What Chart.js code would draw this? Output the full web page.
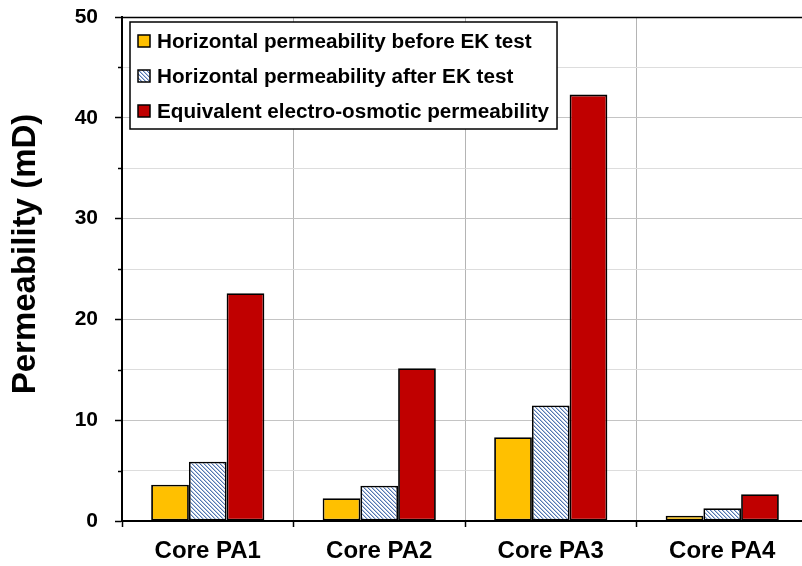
<!DOCTYPE html>
<html>
<head>
<meta charset="utf-8">
<script src="https://cdn.jsdelivr.net/npm/chart.js@4.4.1/dist/chart.umd.min.js"></script>
<style>
  html, body { margin: 0; padding: 0; background: #fff; overflow: hidden; }
  #wrap { width: 812px; height: 566px; position: relative; }
</style>
</head>
<body>
<div id="wrap"><canvas id="c"></canvas></div>
<script>
const categories = ['Core PA1', 'Core PA2', 'Core PA3', 'Core PA4'];
const seriesNames = [
  'Horizontal permeability before EK test',
  'Horizontal permeability after EK test',
  'Equivalent electro-osmotic permeability'
];
const beforeEK = [3.6, 2.26, 8.31, 0.53];
const afterEK = [5.88, 3.49, 11.46, 1.26];
const electroOsmotic = [22.6, 15.16, 42.3, 2.65];
const yMin = 0, yMax = 50, yStep = 5, yLabelStep = 10;
const yTitle = 'Permeability (mD)';

const FONT = '"Liberation Sans", Arial, Helvetica, sans-serif';

function makeHatch() {
  const n = 4;
  const t = document.createElement('canvas');
  t.width = n; t.height = n;
  const g = t.getContext('2d');
  g.fillStyle = '#ffffff';
  g.fillRect(0, 0, n, n);
  for (let i = 0; i < n; i++) {
    g.fillStyle = '#5476b0';
    g.fillRect(i, i, 1, 1);
    g.fillStyle = '#b3c5e0';
    g.fillRect((i + 1) % n, i, 1, 1);
  }
  return g.createPattern(t, 'repeat');
}
const ctx0 = document.getElementById('c').getContext('2d');
const hatch = makeHatch();
const fills = ['#ffc000', hatch, '#c00000'];

const framePlugin = {
  id: 'frame',
  afterDraw(chart) {
    const { ctx, chartArea: a, scales } = chart;
    ctx.save();
    ctx.strokeStyle = '#000';
    ctx.lineWidth = 1.5;
    ctx.beginPath();
    ctx.moveTo(a.left, a.top + 0.5);
    ctx.lineTo(a.right, a.top + 0.5);
    ctx.stroke();
    const y = scales.y;
    y.ticks.forEach(t => {
      if (t.value % yLabelStep !== 0) {
        const py = Math.round(y.getPixelForValue(t.value)) + 0.5;
        ctx.beginPath();
        ctx.moveTo(a.left - 4, py);
        ctx.lineTo(a.left, py);
        ctx.stroke();
      }
    });
    ctx.fillStyle = '#000';
    ctx.font = 'bold 33px ' + FONT;
    ctx.textAlign = 'center';
    ctx.textBaseline = 'alphabetic';
    ctx.translate(35, 254);
    ctx.rotate(-Math.PI / 2);
    ctx.fillText(yTitle, 0, 0);
    ctx.restore();

    ctx.save();
    const ds = chart.data.datasets;
    ctx.font = 'bold 20.7px ' + FONT;
    let maxW = 0;
    ds.forEach(d => { maxW = Math.max(maxW, ctx.measureText(d.label).width); });
    const bx = a.left + 8, by = a.top + 5;
    const rowH = 35;
    const bw = 27 + maxW + 8, bh = rowH * ds.length + 2;
    ctx.fillStyle = '#fff';
    ctx.fillRect(bx, by, bw, bh);
    ctx.strokeStyle = '#000';
    ctx.lineWidth = 1.5;
    ctx.strokeRect(bx, by, bw, bh);
    ds.forEach((d, i) => {
      const cy = by + 19 + i * rowH;
      ctx.fillStyle = d.backgroundColor;
      ctx.fillRect(bx + 8, cy - 6, 12, 12);
      ctx.lineWidth = 1.5;
      ctx.strokeStyle = '#000';
      ctx.strokeRect(bx + 8, cy - 6, 12, 12);
      ctx.fillStyle = '#000';
      ctx.textAlign = 'left';
      ctx.textBaseline = 'middle';
      ctx.fillText(d.label, bx + 27, cy + 1);
    });
    ctx.restore();
  }
};

new Chart(ctx0, {
  type: 'bar',
  data: {
    labels: categories,
    datasets: [
      { label: seriesNames[0], data: beforeEK, backgroundColor: fills[0] },
      { label: seriesNames[1], data: afterEK, backgroundColor: fills[1] },
      { label: seriesNames[2], data: electroOsmotic, backgroundColor: fills[2] }
    ].map(d => Object.assign(d, {
      borderColor: '#000',
      borderWidth: 1.8,
      borderSkipped: false,
      categoryPercentage: 0.66,
      barPercentage: 1.0
    }))
  },
  options: {
    responsive: true,
    maintainAspectRatio: false,
    animation: false,
    events: [],
    layout: { padding: { top: 17, right: 4, bottom: 0, left: 0 } },
    plugins: { legend: { display: false }, tooltip: { enabled: false }, title: { display: false } },
    scales: {
      x: {
        afterFit(scale) { scale.height = 45; },
        grid: {
          offset: true,
          color: '#b4b4b4',
          lineWidth: 1,
          tickColor: '#000',
          tickLength: 6,
          tickWidth: 1.5
        },
        border: { color: '#000', width: 2 },
        ticks: {
          color: '#000',
          padding: 10,
          font: { family: FONT, size: 24, weight: 'bold' }
        }
      },
      y: {
        min: yMin,
        max: yMax,
        afterFit(scale) {
          scale.width = 122;
          scale.paddingTop = 0;
          scale.paddingBottom = 0;
        },
        grid: {
          color: c => (c.tick && c.tick.value % yLabelStep === 0) ? '#c4c4c4' : '#dddddd',
          lineWidth: 1,
          tickColor: c => (c.tick && c.tick.value % yLabelStep === 0) ? '#000' : 'rgba(0,0,0,0)',
          tickLength: 7,
          tickWidth: 1.5
        },
        border: { color: '#000', width: 2 },
        ticks: {
          stepSize: yStep,
          autoSkip: false,
          color: '#000',
          padding: 17,
          font: { family: FONT, size: 21, weight: 'bold' },
          callback: v => (v % yLabelStep === 0 ? String(v) : '')
        }
      }
    }
  },
  plugins: [framePlugin]
});
</script>
</body>
</html>
